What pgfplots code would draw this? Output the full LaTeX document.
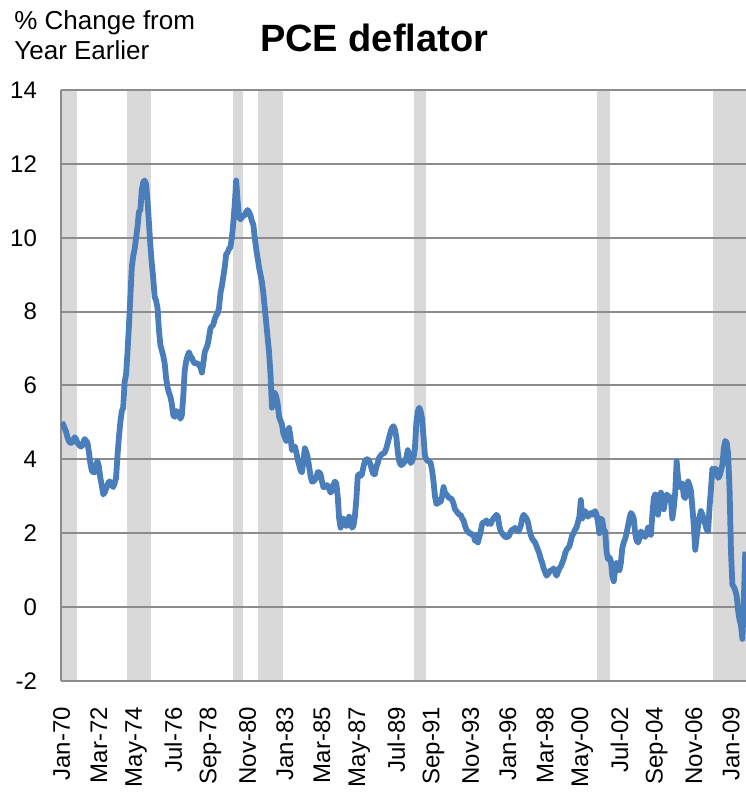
\documentclass[border=0pt]{standalone}
\usepackage{fontspec}
\setmainfont{Liberation Sans}
\usepackage{pgfplots}
\pgfplotsset{compat=1.18}
\definecolor{pceblue}{HTML}{4A7EBB}
\definecolor{recgray}{HTML}{D9D9D9}
\definecolor{gridgray}{HTML}{8C8C8C}
\begin{document}
\begin{tikzpicture}
\begin{axis}[
  set layers,
  scale only axis,
  width=342.5pt, height=295.5pt,
  xmin=-0.5, xmax=478.5, ymin=-2, ymax=14,
  axis lines=left,
  axis line style={gridgray, line width=1pt, -},
  ymajorgrids,
  grid style={gridgray, line width=1pt},
  major tick length=0pt,
  ytick={-2,0,2,4,6,8,10,12,14},
  yticklabels={-2,0,2,4,6,8,10,12,14},
  xtick={0,26,52,78,104,130,156,182,208,234,260,286,312,338,364,390,416,442,468},
  xticklabels={Jan-70,Mar-72,May-74,Jul-76,Sep-78,Nov-80,Jan-83,Mar-85,May-87,Jul-89,Sep-91,Nov-93,Jan-96,Mar-98,May-00,Jul-02,Sep-04,Nov-06,Jan-09},
  tick label style={font=\fontsize{12}{14}\selectfont, black},
  xticklabel style={rotate=90, anchor=east},
  xticklabel shift=9.5pt,
  yticklabel shift=8.5pt,
  clip=true,
]
% recession shading
\addplot[on layer=axis background, fill=recgray, draw=none] coordinates {(-0.5,-2) (10.5,-2) (10.5,14) (-0.5,14)};
\addplot[on layer=axis background, fill=recgray, draw=none] coordinates {(45.5,-2) (62.5,-2) (62.5,14) (45.5,14)};
\addplot[on layer=axis background, fill=recgray, draw=none] coordinates {(119.5,-2) (126.5,-2) (126.5,14) (119.5,14)};
\addplot[on layer=axis background, fill=recgray, draw=none] coordinates {(137.5,-2) (154.5,-2) (154.5,14) (137.5,14)};
\addplot[on layer=axis background, fill=recgray, draw=none] coordinates {(246,-2) (255,-2) (255,14) (246,14)};
\addplot[on layer=axis background, fill=recgray, draw=none] coordinates {(374.5,-2) (383.5,-2) (383.5,14) (374.5,14)};
\addplot[on layer=axis background, fill=recgray, draw=none] coordinates {(455.5,-2) (478.5,-2) (478.5,14) (455.5,14)};
% PCE deflator, % change from year earlier, monthly Jan-70 .. Nov-09
\addplot[pceblue, line width=2.9pt, line join=round, mark=none] table[x expr=\coordindex, y index=0, row sep=\\] {
v \\
5.0\\ 4.95\\ 4.85\\ 4.75\\ 4.6\\ 4.5\\ 4.45\\ 4.45\\ 4.5\\ 4.6\\ 4.55\\ 4.45\\
4.4\\ 4.35\\ 4.35\\ 4.45\\ 4.55\\ 4.5\\ 4.45\\ 4.2\\ 3.9\\ 3.7\\ 3.65\\ 3.65\\
3.85\\ 3.95\\ 3.8\\ 3.5\\ 3.3\\ 3.05\\ 3.1\\ 3.2\\ 3.3\\ 3.4\\ 3.4\\ 3.3\\
3.25\\ 3.35\\ 3.5\\ 4.1\\ 4.6\\ 5.0\\ 5.3\\ 5.4\\ 6.1\\ 6.3\\ 6.9\\ 7.6\\
8.4\\ 9.2\\ 9.5\\ 9.7\\ 10.0\\ 10.3\\ 10.7\\ 10.75\\ 11.3\\ 11.5\\ 11.55\\ 11.45\\
11.0\\ 10.4\\ 9.8\\ 9.3\\ 8.9\\ 8.4\\ 8.3\\ 8.1\\ 7.5\\ 7.1\\ 6.95\\ 6.8\\
6.6\\ 6.2\\ 5.95\\ 5.8\\ 5.7\\ 5.5\\ 5.2\\ 5.15\\ 5.3\\ 5.3\\ 5.2\\ 5.1\\
5.2\\ 5.7\\ 6.4\\ 6.65\\ 6.8\\ 6.9\\ 6.8\\ 6.75\\ 6.65\\ 6.6\\ 6.6\\ 6.6\\
6.55\\ 6.5\\ 6.35\\ 6.6\\ 6.9\\ 7.0\\ 7.1\\ 7.3\\ 7.55\\ 7.6\\ 7.65\\ 7.8\\
7.9\\ 7.95\\ 8.1\\ 8.5\\ 8.7\\ 8.95\\ 9.2\\ 9.55\\ 9.6\\ 9.7\\ 9.75\\ 10.0\\
10.4\\ 10.9\\ 11.55\\ 11.0\\ 10.55\\ 10.5\\ 10.55\\ 10.6\\ 10.6\\ 10.7\\ 10.75\\ 10.7\\
10.6\\ 10.45\\ 10.35\\ 10.0\\ 9.7\\ 9.45\\ 9.2\\ 9.0\\ 8.8\\ 8.5\\ 8.1\\ 7.7\\
7.3\\ 6.9\\ 6.3\\ 5.4\\ 5.75\\ 5.8\\ 5.7\\ 5.5\\ 5.15\\ 5.05\\ 4.95\\ 4.7\\
4.6\\ 4.5\\ 4.75\\ 4.85\\ 4.6\\ 4.25\\ 4.3\\ 4.35\\ 4.2\\ 4.0\\ 3.85\\ 3.7\\
3.65\\ 3.95\\ 4.3\\ 4.2\\ 4.05\\ 3.8\\ 3.55\\ 3.4\\ 3.4\\ 3.45\\ 3.5\\ 3.65\\
3.65\\ 3.6\\ 3.4\\ 3.25\\ 3.25\\ 3.3\\ 3.3\\ 3.2\\ 3.1\\ 3.15\\ 3.3\\ 3.4\\
3.35\\ 3.0\\ 2.4\\ 2.15\\ 2.3\\ 2.4\\ 2.3\\ 2.2\\ 2.35\\ 2.45\\ 2.3\\ 2.15\\
2.2\\ 2.45\\ 2.9\\ 3.55\\ 3.6\\ 3.55\\ 3.6\\ 3.8\\ 3.95\\ 4.0\\ 4.0\\ 3.95\\
3.85\\ 3.7\\ 3.6\\ 3.6\\ 3.8\\ 3.9\\ 4.05\\ 4.1\\ 4.15\\ 4.15\\ 4.2\\ 4.3\\
4.45\\ 4.6\\ 4.75\\ 4.85\\ 4.9\\ 4.8\\ 4.6\\ 4.2\\ 3.95\\ 3.85\\ 3.85\\ 3.9\\
3.95\\ 4.05\\ 4.25\\ 4.1\\ 3.9\\ 3.95\\ 4.05\\ 4.3\\ 5.0\\ 5.3\\ 5.4\\ 5.3\\
5.1\\ 4.6\\ 4.1\\ 4.0\\ 3.95\\ 3.95\\ 3.9\\ 3.7\\ 3.4\\ 3.0\\ 2.8\\ 2.8\\
2.9\\ 2.85\\ 3.0\\ 3.25\\ 3.1\\ 3.05\\ 3.0\\ 2.95\\ 2.95\\ 2.9\\ 2.8\\ 2.65\\
2.6\\ 2.55\\ 2.5\\ 2.5\\ 2.4\\ 2.35\\ 2.2\\ 2.1\\ 2.05\\ 2.0\\ 2.0\\ 1.95\\
1.95\\ 1.8\\ 1.95\\ 1.75\\ 1.9\\ 2.05\\ 2.25\\ 2.3\\ 2.3\\ 2.35\\ 2.25\\ 2.3\\
2.25\\ 2.35\\ 2.4\\ 2.45\\ 2.5\\ 2.45\\ 2.2\\ 2.05\\ 2.0\\ 1.95\\ 1.9\\ 1.9\\
1.9\\ 1.95\\ 2.05\\ 2.1\\ 2.1\\ 2.15\\ 2.1\\ 2.05\\ 2.1\\ 2.2\\ 2.4\\ 2.5\\
2.45\\ 2.4\\ 2.3\\ 2.1\\ 1.95\\ 1.85\\ 1.8\\ 1.75\\ 1.65\\ 1.55\\ 1.45\\ 1.3\\
1.2\\ 1.05\\ 0.95\\ 0.85\\ 0.9\\ 0.95\\ 1.0\\ 1.0\\ 1.05\\ 0.95\\ 0.85\\ 0.95\\
1.05\\ 1.1\\ 1.2\\ 1.3\\ 1.45\\ 1.55\\ 1.6\\ 1.65\\ 1.8\\ 1.95\\ 2.0\\ 2.1\\
2.15\\ 2.3\\ 2.45\\ 2.9\\ 2.4\\ 2.55\\ 2.6\\ 2.5\\ 2.45\\ 2.5\\ 2.55\\ 2.5\\
2.55\\ 2.6\\ 2.5\\ 2.3\\ 2.0\\ 2.4\\ 2.35\\ 2.1\\ 2.05\\ 1.5\\ 1.3\\ 1.35\\
1.25\\ 0.85\\ 0.7\\ 1.0\\ 1.2\\ 1.15\\ 1.0\\ 1.2\\ 1.6\\ 1.75\\ 1.85\\ 2.0\\
2.2\\ 2.4\\ 2.55\\ 2.5\\ 2.4\\ 2.0\\ 1.8\\ 1.75\\ 1.85\\ 2.05\\ 2.0\\ 1.95\\
1.9\\ 2.0\\ 2.15\\ 2.0\\ 1.95\\ 2.5\\ 2.95\\ 3.05\\ 2.75\\ 2.5\\ 2.85\\ 3.1\\
2.85\\ 2.65\\ 2.9\\ 3.05\\ 3.0\\ 3.0\\ 2.9\\ 2.4\\ 2.7\\ 3.1\\ 3.95\\ 3.5\\
3.25\\ 3.3\\ 3.35\\ 3.0\\ 2.95\\ 3.2\\ 3.4\\ 3.3\\ 3.15\\ 2.7\\ 2.2\\ 1.55\\
1.9\\ 2.2\\ 2.45\\ 2.6\\ 2.5\\ 2.35\\ 2.25\\ 2.1\\ 2.05\\ 2.7\\ 3.2\\ 3.75\\
3.7\\ 3.75\\ 3.7\\ 3.5\\ 3.55\\ 3.7\\ 3.85\\ 4.3\\ 4.5\\ 4.45\\ 4.15\\ 3.2\\
1.5\\ 0.6\\ 0.55\\ 0.45\\ 0.3\\ -0.1\\ -0.35\\ -0.5\\ -0.86\\ 0.2\\ 1.5\\
};
\coordinate (titlepos) at (rel axis cs:0.457,1.088);
\coordinate (ylabpos) at (rel axis cs:-0.0686,1.1354);
\coordinate (bbl) at (rel axis cs:-0.08905,-0.18782);
\coordinate (btr) at (rel axis cs:1,1.15228);
\end{axis}
\node[anchor=center, font=\fontsize{19}{22}\selectfont\bfseries] at (titlepos) {PCE deflator};
\node[anchor=north west, align=left, inner sep=0pt, font=\fontsize{13}{15}\selectfont] at (ylabpos) {\% Change from\\Year Earlier};
\pgfresetboundingbox
\useasboundingbox (bbl) rectangle (btr);
\end{tikzpicture}
\end{document}
